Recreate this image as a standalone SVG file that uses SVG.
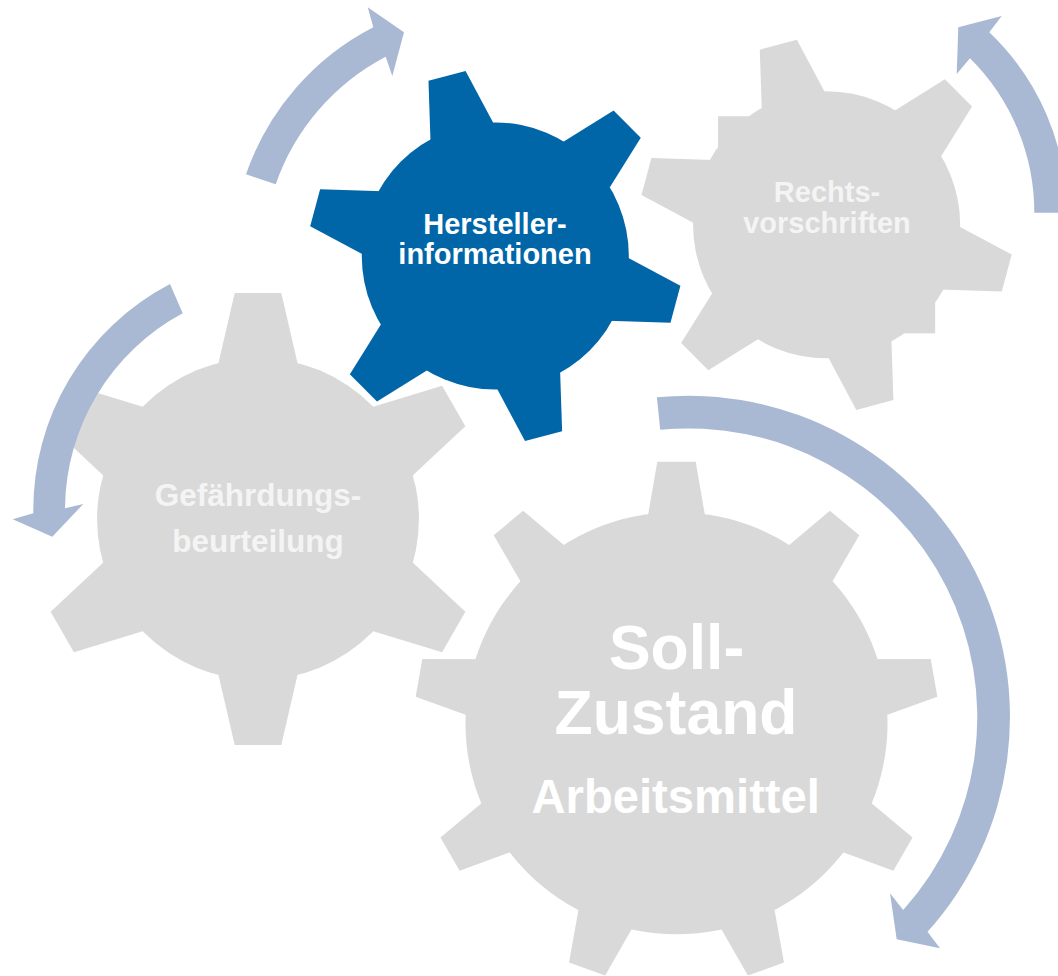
<svg xmlns="http://www.w3.org/2000/svg" xmlns:xlink="http://www.w3.org/1999/xlink" width="1058" height="976" viewBox="0 0 1058 976">
  <style>
    .grey { fill: #d9d9d9; }
    .blue { fill: #0066a8; }
    .arrow { fill: #aab9d3; }
    .lbl { font-family: "Liberation Sans", Arial, sans-serif; font-weight: bold; text-anchor: middle; fill: #ffffff; }
    .lbl-soft { fill: #f4f4f4; }
  </style>
  <defs>
    <!-- unit teeth, pointing up, tip at radius 1 -->
    <polygon id="tooth6" points="-0.2075,-0.55 -0.103,-1 0.103,-1 0.2075,-0.55"/>
    <polygon id="tooth9" points="-0.134,-0.65 -0.0734,-1 0.0734,-1 0.134,-0.65"/>
  </defs>

  <rect width="1058" height="976" fill="#ffffff"/>

  <!-- Gefährdungsbeurteilung -->
  <g id="gear-gefaehrdung">
    <g class="grey" transform="translate(258,519) scale(226)">
      <circle r="0.712"/>
      <use xlink:href="#tooth6"/>
      <use xlink:href="#tooth6" transform="rotate(60)"/>
      <use xlink:href="#tooth6" transform="rotate(120)"/>
      <use xlink:href="#tooth6" transform="rotate(180)"/>
      <use xlink:href="#tooth6" transform="rotate(240)"/>
      <use xlink:href="#tooth6" transform="rotate(300)"/>
    </g>
    <text class="lbl lbl-soft" font-size="31.5" x="258" y="505.7">Gefährdungs-</text>
    <text class="lbl lbl-soft" font-size="31.5" x="258" y="551.7">beurteilung</text>
  </g>

  <!-- Rechtsvorschriften -->
  <g id="gear-recht">
    <g class="grey" transform="translate(826.6,224.8) scale(186.5)">
      <circle r="0.716"/>
      <rect x="-0.582" y="-0.582" width="1.164" height="1.164"/>
      <use xlink:href="#tooth6" transform="rotate(-15)"/>
      <use xlink:href="#tooth6" transform="rotate(45)"/>
      <use xlink:href="#tooth6" transform="rotate(105)"/>
      <use xlink:href="#tooth6" transform="rotate(165)"/>
      <use xlink:href="#tooth6" transform="rotate(225)"/>
      <use xlink:href="#tooth6" transform="rotate(285)"/>
    </g>
    <text class="lbl lbl-soft" font-size="29" x="827" y="201.7">Rechts-</text>
    <text class="lbl lbl-soft" font-size="29" x="827" y="233.3">vorschriften</text>
  </g>

  <!-- Herstellerinformationen -->
  <g id="gear-hersteller">
    <g class="blue" transform="translate(495.3,256) scale(186.5)">
      <circle r="0.716"/>
      <use xlink:href="#tooth6" transform="rotate(-15)"/>
      <use xlink:href="#tooth6" transform="rotate(45)"/>
      <use xlink:href="#tooth6" transform="rotate(105)"/>
      <use xlink:href="#tooth6" transform="rotate(165)"/>
      <use xlink:href="#tooth6" transform="rotate(225)"/>
      <use xlink:href="#tooth6" transform="rotate(285)"/>
    </g>
    <text class="lbl" font-size="29" x="495" y="234">Hersteller-</text>
    <text class="lbl" font-size="29" x="495" y="264">informationen</text>
  </g>

  <!-- Soll-Zustand Arbeitsmittel -->
  <g id="gear-soll">
    <g class="grey" transform="translate(676.5,723.3) scale(261.5)">
      <circle r="0.807"/>
      <use xlink:href="#tooth9"/>
      <use xlink:href="#tooth9" transform="rotate(40)"/>
      <use xlink:href="#tooth9" transform="rotate(80)"/>
      <use xlink:href="#tooth9" transform="rotate(120)"/>
      <use xlink:href="#tooth9" transform="rotate(160)"/>
      <use xlink:href="#tooth9" transform="rotate(200)"/>
      <use xlink:href="#tooth9" transform="rotate(240)"/>
      <use xlink:href="#tooth9" transform="rotate(280)"/>
      <use xlink:href="#tooth9" transform="rotate(320)"/>
    </g>
    <text class="lbl" font-size="62.5" transform="translate(676.6,669.3) scale(1,1.02)">Soll-</text>
    <text class="lbl" font-size="62.5" transform="translate(676,734) scale(1,1.02)">Zustand</text>
    <text class="lbl" font-size="47.2" transform="translate(675.7,813) scale(1,1.03)">Arbeitsmittel</text>
  </g>

  <!-- curved arrows -->
  <g id="connectors" class="arrow">
    <path d="M246,174.3 A261,261 0 0 1 373.3,27.3 L367.7,7.3 L404,32.3 L392.3,76 L385.7,56.7 A229,229 0 0 0 275.7,184.3 Z"/>
    <path d="M1066.8,212.7 A250,250 0 0 0 989.3,32.3 L1001.7,16 L958.3,27.3 L956.7,74 L970,58.3 A217.5,217.5 0 0 1 1034.3,212.7 Z"/>
    <path d="M170,284 A255,255 0 0 0 33.3,513.3 L12.7,519.3 L52.3,536.7 L83.3,504 L65,508.3 A223,223 0 0 1 182.7,313.3 Z"/>
    <path d="M656.9,397.3 A321.2,321.2 0 0 1 927.5,931.8 L940,948.3 L896.7,939.3 L890,893.3 L903.2,909.9 A288.5,288.5 0 0 0 660.2,429.8 Z"/>
  </g>
</svg>
